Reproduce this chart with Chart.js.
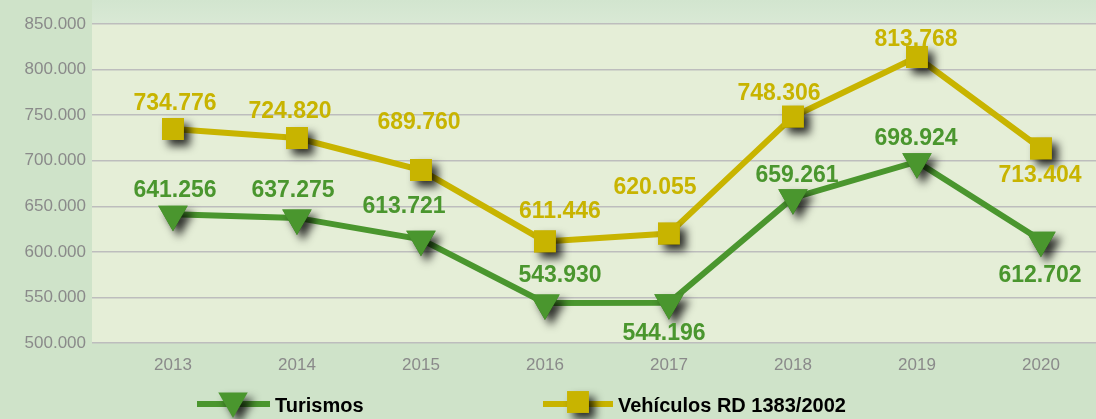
<!DOCTYPE html>
<html>
<head>
<meta charset="utf-8">
<script src="https://cdn.jsdelivr.net/npm/chart.js@4/dist/chart.umd.min.js"></script>
<style>
  body { margin: 0; background: #cfe3c9; }
  #wrap { width: 1096px; height: 419px; }
</style>
</head>
<body>
<div id="wrap"><canvas id="chart" width="1096" height="419"></canvas></div>
<script>
// datos
const years = [2013, 2014, 2015, 2016, 2017, 2018, 2019, 2020];
const turismos = [641256, 637275, 613721, 543930, 544196, 659261, 698924, 612702];
const vehiculos = [734776, 724820, 689760, 611446, 620055, 748306, 813768, 713404];
const yMin = 500000, yMax = 850000, yStep = 50000;

// colocación de las etiquetas respecto al punto (px)
const turismosLabelDx = [2, -4, -17, 15, -5, 4, -1, -1];
const turismosLabelDy = [-24, -27, -33, -27, 31, -22, -23, 35];
const vehiculosLabelDx = [2, -7, -2, 15, -14, -14, -1, -1];
const vehiculosLabelDy = [-25, -26, -47, -30, -46, -23, -17, 27];

const GREEN = "#4a962e";
const YELLOW = "#c8b400";
const FONT = "'Liberation Sans', Arial, sans-serif";

function fmt(v) {
  return String(Math.round(v)).replace(/\B(?=(\d{3})+(?!\d))/g, ".");
}

function shape(ctx, style, x, y, r) {
  ctx.beginPath();
  if (style === "triangle") {
    // triángulo invertido
    ctx.moveTo(x, y + r);
    ctx.lineTo(x - r * Math.sqrt(3) / 2, y - r / 2);
    ctx.lineTo(x + r * Math.sqrt(3) / 2, y - r / 2);
    ctx.closePath();
  } else {
    const s = Math.SQRT1_2 * r;
    ctx.rect(x - s, y - s, 2 * s, 2 * s);
  }
  ctx.fill();
}

const bgPlugin = {
  id: "bg",
  beforeDraw(chart) {
    const { ctx, chartArea: a, width, height } = chart;
    ctx.save();
    ctx.fillStyle = "#cfe3c9";
    ctx.fillRect(0, 0, width, height);
    const g = ctx.createLinearGradient(0, 0, 0, a.top);
    g.addColorStop(0, "#d2e5cf");
    g.addColorStop(1, "#d9e9d5");
    ctx.fillStyle = g;
    ctx.fillRect(a.left, 0, a.right - a.left, a.top);
    ctx.fillStyle = "#e5eed7";
    ctx.fillRect(a.left, a.top, a.right - a.left, a.bottom - a.top);
    ctx.restore();
  },
};

// sombra de los marcadores
const shadowPlugin = {
  id: "shadow",
  afterDatasetDraw(chart, args) {
    const ctx = chart.ctx;
    ctx.save();
    ctx.shadowColor = "rgba(0,0,0,0.8)";
    ctx.shadowBlur = 9;
    ctx.shadowOffsetX = 6;
    ctx.shadowOffsetY = 6;
    args.meta.data.forEach((p) => p.draw(ctx));
    ctx.restore();
  },
};

const labelsPlugin = {
  id: "labels",
  afterDatasetsDraw(chart) {
    const ctx = chart.ctx;
    ctx.save();
    ctx.font = "bold 23px " + FONT;
    ctx.textAlign = "center";
    ctx.textBaseline = "middle";
    chart.data.datasets.forEach((ds, i) => {
      const meta = chart.getDatasetMeta(i);
      ctx.fillStyle = ds.borderColor;
      meta.data.forEach((p, j) => {
        ctx.fillText(fmt(ds.data[j].y), p.x + ds.labelDx[j], p.y + ds.labelDy[j]);
      });
    });
    ctx.restore();
  },
};

const legendPlugin = {
  id: "legendCustom",
  afterDraw(chart) {
    const ctx = chart.ctx;
    const items = [
      { ds: chart.data.datasets[0], x0: 197, x1: 270, mx: 233, my: 401, r: 17 },
      { ds: chart.data.datasets[1], x0: 543, x1: 613, mx: 578, my: 402, r: 15.5 },
    ];
    ctx.save();
    items.forEach((it) => {
      ctx.strokeStyle = it.ds.borderColor;
      ctx.lineWidth = 6;
      ctx.beginPath();
      ctx.moveTo(it.x0, 404);
      ctx.lineTo(it.x1, 404);
      ctx.stroke();
      ctx.save();
      ctx.shadowColor = "rgba(0,0,0,0.8)";
      ctx.shadowBlur = 9;
      ctx.shadowOffsetX = 6;
      ctx.shadowOffsetY = 6;
      ctx.fillStyle = it.ds.borderColor;
      shape(ctx, it.ds.pointStyle, it.mx, it.my, it.r);
      ctx.restore();
      ctx.fillStyle = "#000";
      ctx.font = "bold 20px " + FONT;
      ctx.textAlign = "left";
      ctx.textBaseline = "middle";
      ctx.fillText(it.ds.label, it.x1 + 5, 406);
    });
    ctx.restore();
  },
};

new Chart(document.getElementById("chart"), {
  type: "line",
  data: {
    datasets: [
      {
        label: "Turismos",
        data: turismos,
        labelDx: turismosLabelDx,
        labelDy: turismosLabelDy,
        borderColor: GREEN,
        backgroundColor: GREEN,
        borderWidth: 6,
        pointStyle: "triangle",
        pointRotation: 180,
        pointRadius: 17,
        pointHoverRadius: 17,
        pointBorderWidth: 0,
        pointBackgroundColor: GREEN,
        tension: 0,
      },
      {
        label: "Vehículos RD 1383/2002",
        data: vehiculos,
        labelDx: vehiculosLabelDx,
        labelDy: vehiculosLabelDy,
        borderColor: YELLOW,
        backgroundColor: YELLOW,
        borderWidth: 6,
        pointStyle: "rect",
        pointRadius: 15.5,
        pointHoverRadius: 15.5,
        pointBorderWidth: 0,
        pointBackgroundColor: YELLOW,
        tension: 0,
      },
    ].map((ds) => ({ ...ds, data: ds.data.map((v, i) => ({ x: years[i], y: v })) })),
  },
  options: {
    responsive: false,
    animation: false,
    events: [],
    layout: { autoPadding: false, padding: { top: 24, left: 0, right: 0, bottom: 0 } },
    plugins: {
      legend: { display: false },
      tooltip: { enabled: false },
    },
    scales: {
      x: {
        type: "linear",
        min: years[0] - 0.653,
        max: years[years.length - 1] + 0.444,
        afterBuildTicks: (axis) => {
          axis.ticks = years.map((v) => ({ value: v }));
        },
        afterFit: (axis) => {
          axis.height = 76;
        },
        grid: { display: false, drawTicks: false },
        border: { display: false },
        ticks: {
          padding: 12,
          color: "#8a8a8a",
          font: { family: FONT, size: 17 },
          callback: (v) => String(v),
        },
      },
      y: {
        min: yMin,
        max: yMax,
        afterFit: (axis) => {
          axis.width = 92;
        },
        grid: { color: "#bdbdbd", lineWidth: 1.5, drawTicks: false },
        border: { display: false },
        ticks: {
          stepSize: yStep,
          padding: 6,
          color: "#8a8a8a",
          font: { family: FONT, size: 17 },
          callback: (v) => fmt(v),
        },
      },
    },
  },
  plugins: [bgPlugin, shadowPlugin, labelsPlugin, legendPlugin],
});
</script>
</body>
</html>
